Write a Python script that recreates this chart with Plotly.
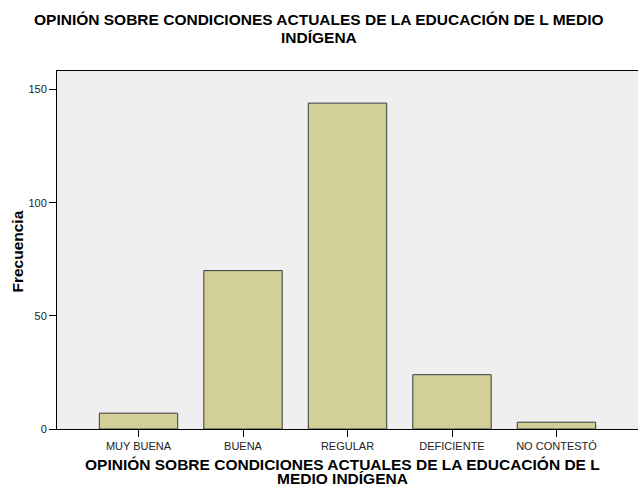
import plotly.graph_objects as go

categories = ["MUY BUENA", "BUENA", "REGULAR", "DEFICIENTE", "NO CONTESTÓ"]
counts = [7, 70, 144, 24, 3]
y_ticks = [0, 50, 100, 150]

title_lines = ["OPINIÓN SOBRE CONDICIONES ACTUALES DE LA EDUCACIÓN DE L MEDIO", "INDÍGENA"]
xtitle_lines = ["OPINIÓN SOBRE CONDICIONES ACTUALES DE LA EDUCACIÓN DE L", "MEDIO INDÍGENA"]
ytitle = "Frecuencia"

FONT = "Liberation Sans, Arial, sans-serif"

fig = go.Figure(
    go.Bar(
        x=list(range(len(categories))),
        y=counts,
        marker=dict(color="#D3CF98", line=dict(color="#3A3A3A", width=1)),
        width=0.75,
        hoverinfo="x+y",
    )
)

axis_common = dict(
    ticks="outside",
    ticklen=7,
    tickcolor="#000000",
    showline=True,
    linecolor="#000000",
    linewidth=1,
    mirror=True,
    showgrid=False,
    zeroline=False,
    automargin=False,
    tickfont=dict(size=11, color="#222222"),
)

fig.update_layout(
    width=638,
    height=488,
    margin=dict(l=57, r=0, t=71, b=59),
    paper_bgcolor="#FFFFFF",
    plot_bgcolor="#EFEFEF",
    showlegend=False,
    font=dict(family=FONT, color="#000000"),
    xaxis=dict(
        range=[-0.78, 4.78],
        tickmode="array",
        tickvals=list(range(len(categories))),
        ticktext=categories,
        **axis_common,
    ),
    yaxis=dict(
        range=[0, 158.2],
        tickmode="array",
        tickvals=y_ticks,
        **axis_common,
    ),
)

bold = dict(family=FONT, size=15.5, color="#000000")

# chart title, two lines
for line, y in zip(title_lines, [1.1425, 1.0936]):
    fig.add_annotation(text=f"<b>{line}</b>", xref="paper", yref="paper", x=0.451, y=y,
                       xanchor="center", yanchor="middle", showarrow=False, font=bold)

# x axis title, two lines
for line, y in zip(xtitle_lines, [-0.0978, -0.1383]):
    fig.add_annotation(text=f"<b>{line}</b>", xref="paper", yref="paper", x=0.492, y=y,
                       xanchor="center", yanchor="middle", showarrow=False, font=bold)

fig.add_annotation(text=f"<b>{ytitle}</b>", xref="paper", yref="paper", x=-0.068, y=0.497,
                   xanchor="center", yanchor="middle", textangle=-90, showarrow=False, font=bold)

# the page body has an 8px default margin; drop it so the figure sits at the window corner
fig.write_html("out.html", config={"displayModeBar": False},
               post_script="document.body.style.margin='0px';")
